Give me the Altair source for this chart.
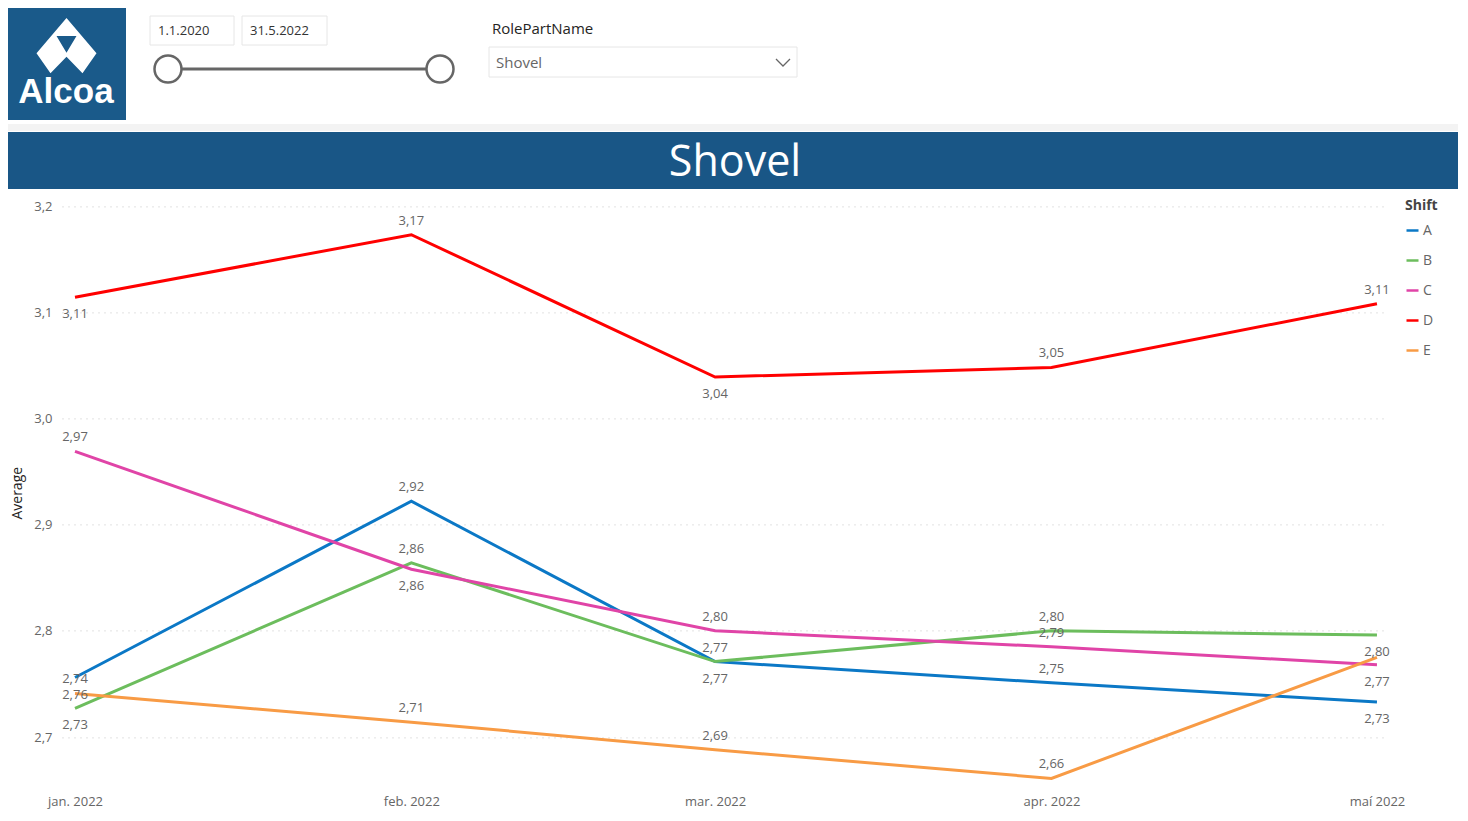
import json
import altair as alt
import pandas as pd

# ---------------- data ----------------
MONTHS = ["2022-01-01T00:00:00", "2022-02-01T00:00:00", "2022-03-01T00:00:00",
          "2022-04-01T00:00:00", "2022-05-01T00:00:00"]
MONTH_LABELS = ["jan. 2022", "feb. 2022", "mar. 2022", "apr. 2022", "maí 2022"]
SHIFTS = ["A", "B", "C", "D", "E"]
A = [2.756, 2.922, 2.771, 2.751, 2.733]
B = [2.727, 2.864, 2.771, 2.800, 2.796]
C = [2.969, 2.858, 2.800, 2.785, 2.768]
D = [3.114, 3.173, 3.039, 3.048, 3.108]
E = [2.741, 2.714, 2.688, 2.661, 2.775]
# where the data label sits relative to its point ("" = label hidden)
A_LBL = ["below", "above", "below", "above", "below"]
B_LBL = ["below", "above", "above", "above", "below"]
C_LBL = ["above", "below", "above", "above", "below"]
D_LBL = ["below", "above", "below", "above", "above"]
E_LBL = ["above", "above", "above", "above", ""]
COLORS = ["#0b78c6", "#6cbd5d", "#e044a7", "#ff0000", "#f89b45"]
Y_TICKS = [2.7, 2.8, 2.9, 3.0, 3.1, 3.2]

series = {"A": (A, A_LBL), "B": (B, B_LBL), "C": (C, C_LBL), "D": (D, D_LBL), "E": (E, E_LBL)}
rows = []
for s in SHIFTS:
    vals, pos = series[s]
    for m, v, p in zip(MONTHS, vals, pos):
        rows.append({"month": m, "shift": s, "value": v, "pos": p})
df = pd.DataFrame(rows)

# ---------------- layout ----------------
FONT = "Open Sans"
W, H = 1324, 594.7
PX0, PY0 = 62, 195.4          # page position of plot origin
PAD_L, PAD_T = PX0 - 8, PY0 - 8
TOTAL_W, TOTAL_H = 1450, 804


def px(x):
    return x - PX0


def py(y):
    return y - PY0


ONE = alt.Data(values=[{"k": 0}])


def rect(x1, y1, x2, y2, fill, stroke=None, sw=1):
    kw = dict(fill=fill)
    if stroke:
        kw.update(stroke=stroke, strokeWidth=sw)
    return alt.Chart(ONE).mark_rect(**kw).encode(
        x=alt.value(px(x1)), x2=alt.value(px(x2)),
        y=alt.value(py(y1)), y2=alt.value(py(y2)))


def text(s, x, y, size, color, align="left", weight="normal", font=FONT):
    return alt.Chart(ONE).mark_text(
        text=s, align=align, baseline="middle", fontSize=size, color=color,
        fontWeight=weight, font=font).encode(x=alt.value(px(x)), y=alt.value(py(y)))


def sym(shape, x, y, size, fill=None, stroke=None, sw=1):
    kw = dict(shape=shape, size=size, opacity=1, strokeWidth=sw)
    if fill:
        kw.update(filled=True, fill=fill)
    else:
        kw.update(filled=False)
    if stroke:
        kw.update(stroke=stroke)
    else:
        kw.update(strokeWidth=0)
    return alt.Chart(ONE).mark_point(**kw).encode(x=alt.value(px(x)), y=alt.value(py(y)))


LOGO_PATH = ("M0,-0.933L1,0.243L0.533,0.91L0,0.357L-0.533,0.91L-1,0.243Z"
             "M-0.333,-0.333L0,0.223L0.333,-0.333Z")

decor = [
    rect(0, 124, 1460, 131, "#f3f3f3"),
    rect(6, 2, 126, 120, "#1a5a8a"),
    sym(LOGO_PATH, 66.5, 46, 3600, fill="white"),
    text("Alcoa", 66, 92, 35, "white", align="center", weight="bold", font="Liberation Sans"),
    rect(150, 16, 234, 45, "white", stroke="#e6e6e6"),
    text("1.1.2020", 158, 31, 13, "#333333"),
    rect(242, 16, 327, 45, "white", stroke="#e6e6e6"),
    text("31.5.2022", 250, 31, 13, "#333333"),
    rect(168, 67.5, 440, 70.5, "#666666"),
    sym("circle", 168, 69, 729, fill="white", stroke="#666666", sw=2.5),
    sym("circle", 440, 69, 729, fill="white", stroke="#666666", sw=2.5),
    text("RolePartName", 492, 29, 15, "#252423"),
    rect(489, 47, 797, 77, "white", stroke="#e6e6e6"),
    text("Shovel", 496, 63, 15, "#666666"),
    sym("M-1,-0.5L0,0.5L1,-0.5", 783, 62.5, 196, stroke="#666666", sw=1.3),
    rect(6, 132, 1460, 189, "#195686"),
    text("Shovel", 735, 163, 43, "white", align="center"),
]

# ---------------- chart ----------------
x_values = [alt.DateTime(year=2022, month=m, date=1) for m in range(1, 6)]
label_expr = json.dumps(MONTH_LABELS, ensure_ascii=False) + "[month(datum.value)]"

x_enc = alt.X("month:T",
              scale=alt.Scale(domain=[alt.DateTime(year=2021, month=12, date=30, hours=19, minutes=15),
                                      alt.DateTime(year=2022, month=5, date=1, hours=20)]),
              axis=alt.Axis(values=x_values, labelExpr=label_expr, title=None, grid=False,
                            domain=False, ticks=False, labelPadding=5, labelFontSize=13,
                            labelColor="#666666", labelFont=FONT))
y_enc = alt.Y("value:Q",
              scale=alt.Scale(domain=[2.65, 3.21], nice=False, zero=False),
              axis=alt.Axis(values=Y_TICKS, labelExpr="replace(format(datum.value, '.1f'), '.', ',')",
                            title="Average", titleFontSize=14, titleFontWeight="normal",
                            titleColor="#252423", titleFont=FONT, titlePadding=9,
                            grid=True, gridDash=[1, 5], gridColor="#c4c4c4", gridWidth=1,
                            domain=False, ticks=False, labelPadding=10, labelFontSize=13,
                            labelColor="#666666", labelFont=FONT))

base = alt.Chart(df)
lines = base.mark_line(strokeWidth=3).encode(
    x=x_enc, y=y_enc,
    color=alt.Color("shift:N", scale=alt.Scale(domain=SHIFTS, range=COLORS),
                    legend=alt.Legend(orient="none", legendX=px(1405), legendY=py(199),
                                      title="Shift", titleFontSize=14, titleFontWeight="bold",
                                      titleColor="#444444", titleFont=FONT, titlePadding=10,
                                      symbolType="stroke", symbolSize=144, symbolStrokeWidth=2.5,
                                      labelFontSize=14, labelColor="#666666", labelFont=FONT,
                                      labelOffset=3, rowPadding=15)),
    detail="shift:N")

lbl = base.transform_calculate(lbl="replace(format(datum.value, '.2f'), '.', ',')")
labels_above = lbl.transform_filter("datum.pos == 'above'").mark_text(
    dy=-14, fontSize=13, color="#666666", font=FONT).encode(x="month:T", y="value:Q", text="lbl:N")
labels_below = lbl.transform_filter("datum.pos == 'below'").mark_text(
    dy=17, fontSize=13, color="#666666", font=FONT).encode(x="month:T", y="value:Q", text="lbl:N")

chart = alt.layer(*decor, lines, labels_above, labels_below).properties(
    width=W, height=H,
    autosize=alt.AutoSizeParams(type="none"),
    padding={"left": PAD_L, "top": PAD_T, "right": TOTAL_W - PAD_L - W, "bottom": TOTAL_H - PAD_T - H},
    background="white",
).configure(font=FONT, view=alt.ViewConfig(stroke=None))

chart.save("out.html", embed_options={"renderer": "svg", "actions": False})
